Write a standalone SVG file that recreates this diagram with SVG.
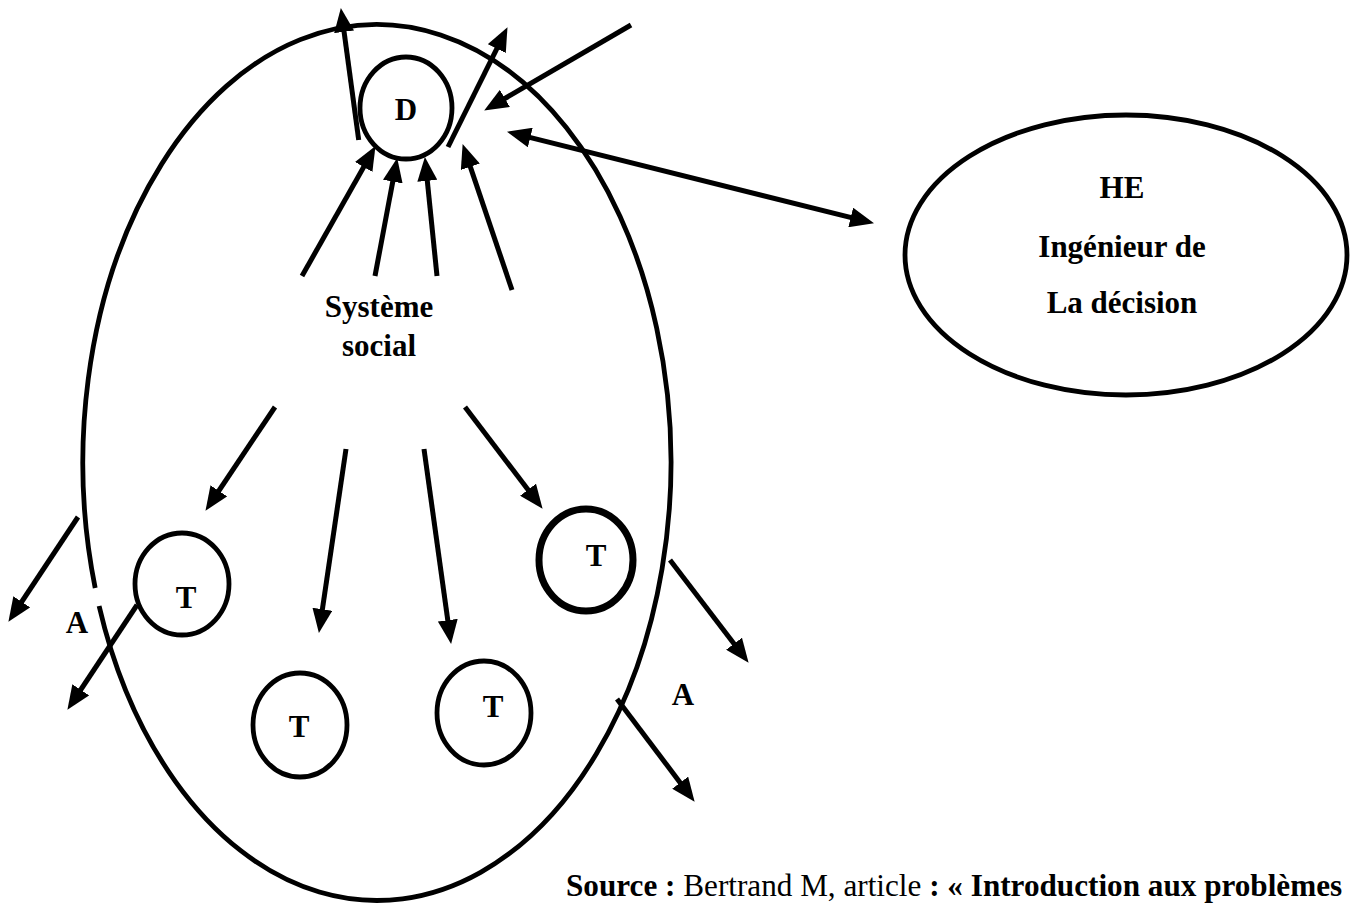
<svg xmlns="http://www.w3.org/2000/svg" width="1357" height="903" viewBox="0 0 1357 903">
<style>
.shape{fill:none;stroke:#000;stroke-width:4.8}
.thick{fill:none;stroke:#000;stroke-width:7}
.lbl{font-family:"Liberation Serif","Times New Roman",serif;font-weight:bold;font-size:31px;fill:#000;text-anchor:middle}
.src{font-family:"Liberation Serif","Times New Roman",serif;font-size:31.2px;fill:#000}
.b{font-weight:bold}
.arr line{stroke:#000;stroke-width:5;marker-end:url(#ah)}
</style>
<defs>
<marker id="ah" markerUnits="userSpaceOnUse" markerWidth="24" markerHeight="20" refX="11" refY="10" orient="auto-start-reverse" viewBox="0 0 24 20">
<path d="M0,0 L24,10 L0,20 z" fill="#000"/>
</marker>
</defs>
<rect width="1357" height="903" fill="#fff"/>

<g id="systeme">
<path class="shape" d="M99.1,606 A294,438 0 1 0 95.2,588"/>
<text class="lbl" x="379" y="317">Système</text>
<text class="lbl" x="379" y="356">social</text>
</g>

<g id="D">
<ellipse class="shape" cx="406" cy="108" rx="46" ry="51"/>
<text class="lbl" x="406" y="120">D</text>
</g>

<g id="HE">
<ellipse class="shape" cx="1126" cy="255" rx="221" ry="140"/>
<text class="lbl" x="1122" y="198">HE</text>
<text class="lbl" x="1122" y="257">Ingénieur de</text>
<text class="lbl" x="1122" y="313">La décision</text>
</g>

<g id="T1">
<ellipse class="shape" cx="182" cy="584" rx="47" ry="51"/>
<text class="lbl" x="186" y="608">T</text>
</g>
<g id="T2">
<ellipse class="thick" cx="586" cy="560" rx="47" ry="51"/>
<text class="lbl" x="596" y="566">T</text>
</g>
<g id="T3">
<ellipse class="shape" cx="300" cy="725" rx="47" ry="52"/>
<text class="lbl" x="299" y="737">T</text>
</g>
<g id="T4">
<ellipse class="shape" cx="484" cy="713" rx="47" ry="52"/>
<text class="lbl" x="493" y="717">T</text>
</g>

<g id="A-left"><text class="lbl" x="77" y="633">A</text></g>
<g id="A-right"><text class="lbl" x="683" y="705">A</text></g>

<g id="connectors" class="arr">
<line x1="358.7" y1="140" x2="342.6" y2="20.9"/>
<line x1="448" y1="147" x2="501.7" y2="38.8"/>
<line x1="631" y1="25" x2="495.4" y2="104"/>
<line x1="519.6" y1="134.9" x2="861.4" y2="220.1" style="marker-start:url(#ah)"/>
<line x1="302" y1="276" x2="369.1" y2="157.4"/>
<line x1="375" y1="276" x2="394.8" y2="170.8"/>
<line x1="437" y1="276" x2="426.2" y2="169.9"/>
<line x1="512" y1="290" x2="466.8" y2="156.4"/>
<line x1="275" y1="407" x2="212.7" y2="500"/>
<line x1="346" y1="449" x2="320.8" y2="620.1"/>
<line x1="424" y1="449" x2="449.3" y2="631.1"/>
<line x1="465" y1="407" x2="534.7" y2="498.5"/>
<line x1="78" y1="517" x2="15.6" y2="611"/>
<line x1="137" y1="605" x2="74.6" y2="699"/>
<line x1="670" y1="560" x2="740.7" y2="652.5"/>
<line x1="617" y1="699" x2="686.8" y2="791.4"/>
</g>

<g id="source">
<text class="src" x="566" y="896"><tspan class="b">Source :</tspan> Bertrand M, article <tspan class="b">: « Introduction aux problèmes</tspan></text>
</g>
</svg>
